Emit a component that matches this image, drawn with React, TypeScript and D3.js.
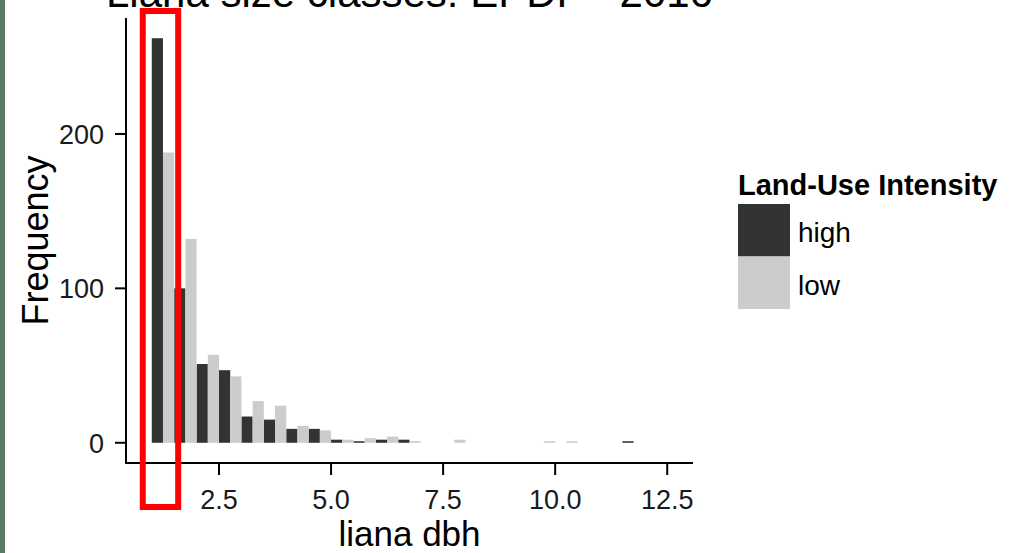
import React from 'react'
import * as d3 from 'd3'

// histogram bins (left edge, width 0.5) and counts per land-use intensity
const binStarts = [1.0, 1.5, 2.0, 2.5, 3.0, 3.5, 4.0, 4.5, 5.0, 5.5, 6.0, 6.5, 7.0, 7.5, 8.0, 8.5, 9.0, 9.5, 10.0, 10.5, 11.0, 11.5, 12.0]
const binWidth = 0.5
const highCounts = [262, 100, 51, 47, 17, 15, 9, 9, 2, 1, 2, 2, 0, 0, 0, 0, 0, 0, 0, 0, 0, 1, 0]
const lowCounts = [188, 132, 57, 43, 27, 24, 11, 8, 2, 3, 4, 1, 0, 2, 0, 0, 0, 1, 1, 0, 0, 0, 0]

const groups = ['high', 'low']
const groupColors = ['#333333', '#cccccc']

const xTicks = [2.5, 5.0, 7.5, 10.0, 12.5]
const yTicks = [0, 100, 200]

const titleText = 'Liana size classes: EPDF - 2016'
const xTitle = 'liana dbh'
const yTitle = 'Frequency'
const legendTitle = 'Land-Use Intensity'

const W = 1010
const H = 553
const FONT = '"Liberation Sans", Arial, Helvetica, sans-serif'

const panel = { left: 126, right: 693, top: 18, bottom: 463 }

export default function App() {
  const lo = binStarts[0]
  const hi = binStarts[binStarts.length - 1] + binWidth
  const xPad = (hi - lo) * 0.05
  const x = d3.scaleLinear()
    .domain([lo - xPad, hi + xPad])
    .range([panel.left, panel.right])

  const maxCount = d3.max([...highCounts, ...lowCounts]) as number
  const y = d3.scaleLinear()
    .domain([-maxCount * 0.05, maxCount * 1.05])
    .range([panel.bottom, panel.top])

  const z = d3.scaleOrdinal<string, string>().domain(groups).range(groupColors)

  const series = [highCounts, lowCounts]
  const half = binWidth / groups.length

  const first = binStarts[0]

  return (
    <svg width={W} height={H} style={{ position: 'absolute', left: 0, top: 0, background: '#fff' }}
      fontFamily={FONT}>
      <rect x={0} y={0} width={W} height={H} fill="#fff" />
      <rect x={0} y={0} width={5} height={H} fill="#5a7b60" />

      {/* title is cropped at the top edge, as in the original image */}
      <text x={(panel.left + panel.right) / 2} y={7} fontSize={42} textAnchor="middle" fill="#000">
        {titleText}
      </text>

      {series.map((counts, gi) => counts.map((c, i) => {
        if (!c) return null
        const b = binStarts[i] + gi * half
        return (
          <rect
            key={`${groups[gi]}__${i}`}
            x={x(b)} y={y(c)}
            width={x(b + half) - x(b)} height={y(0) - y(c)}
            fill={z(groups[gi])}
          />
        )
      }))}

      {/* axes */}
      <line x1={panel.left} x2={panel.left} y1={panel.top} y2={panel.bottom + 1} stroke="#000" strokeWidth={2} />
      <line x1={panel.left - 1} x2={panel.right} y1={panel.bottom} y2={panel.bottom} stroke="#000" strokeWidth={2} />
      {yTicks.map((t) => (
        <g key={`y${t}`}>
          <line x1={panel.left - 11} x2={panel.left} y1={y(t)} y2={y(t)} stroke="#000" strokeWidth={2} />
          <text x={panel.left - 22} y={y(t) + 10} fontSize={27} textAnchor="end" fill="#1a1a1a">{t}</text>
        </g>
      ))}
      {xTicks.map((t) => (
        <g key={`x${t}`}>
          <line x1={x(t)} x2={x(t)} y1={panel.bottom} y2={panel.bottom + 12} stroke="#000" strokeWidth={2} />
          <text x={x(t)} y={509} fontSize={27} textAnchor="middle" fill="#1a1a1a">{t.toFixed(1)}</text>
        </g>
      ))}
      <text x={(panel.left + panel.right) / 2} y={546} fontSize={35} textAnchor="middle" fill="#000">{xTitle}</text>
      <text transform={`translate(48,${(panel.top + panel.bottom) / 2}) rotate(-90)`} fontSize={36}
        textAnchor="middle" fill="#000">{yTitle}</text>

      {/* legend */}
      <text x={738} y={195} fontSize={29} fontWeight="bold" fill="#000">{legendTitle}</text>
      {groups.map((g, i) => (
        <g key={g}>
          <rect x={738} y={204 + i * 52.5} width={52} height={52.5} fill={z(g)} />
          <text x={798} y={242 + i * 52.5} fontSize={28} fill="#000">{g}</text>
        </g>
      ))}

      {/* highlight box around the first size class */}
      <rect x={x(first) - 9} y={11} width={x(first + binWidth) - x(first) + 13} height={496}
        fill="none" stroke="#ff0000" strokeWidth={6} />
    </svg>
  )
}
